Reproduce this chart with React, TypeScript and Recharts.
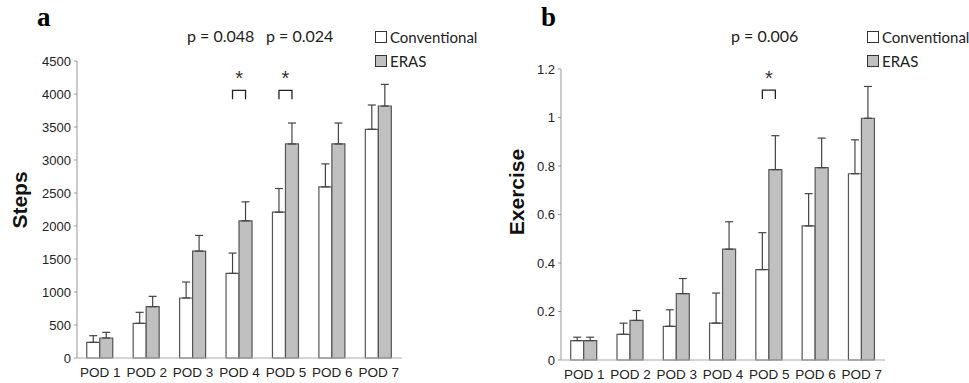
import React from "react";
import { BarChart, Bar, XAxis, YAxis, ErrorBar, LabelList } from "recharts";

const categories = ["POD 1", "POD 2", "POD 3", "POD 4", "POD 5", "POD 6", "POD 7"];

const stepsConventional = [237, 525, 909, 1282, 2210, 2593, 3465];
const stepsConventionalErr = [101, 167, 242, 308, 358, 348, 368];
const stepsEras = [303, 778, 1620, 2079, 3243, 3243, 3818];
const stepsErasErr = [86, 156, 237, 287, 317, 317, 328];
const stepsTicks = [0, 500, 1000, 1500, 2000, 2500, 3000, 3500, 4000, 4500];

const exerciseConventional = [0.08, 0.106, 0.139, 0.152, 0.373, 0.553, 0.768];
const exerciseConventionalErr = [0.014, 0.046, 0.068, 0.124, 0.152, 0.133, 0.14];
const exerciseEras = [0.08, 0.163, 0.274, 0.457, 0.785, 0.793, 0.997];
const exerciseErasErr = [0.014, 0.041, 0.062, 0.113, 0.14, 0.122, 0.131];
const exerciseTicks = [0, 0.2, 0.4, 0.6, 0.8, 1, 1.2];

// significant comparisons: category index + bracket height in data units
const stepsSig = [3, 4];
const stepsBracketLevel = 4056;
const exerciseSig = [4];
const exerciseBracketLevel = 1.113;

const stepsPValues = ["p = 0.048", "p = 0.024"];
const exercisePValues = ["p = 0.006"];

const seriesNames = ["Conventional", "ERAS"];

const TICK_FONT = "'Liberation Sans', Arial, sans-serif";
const TEXT_FONT = "Lato, 'Open Sans', sans-serif";

const buildRows = (conv: number[], convErr: number[], eras: number[], erasErr: number[]) =>
  categories.map((name, i) => ({
    name,
    conv: conv[i],
    convErr: [0, convErr[i]],
    eras: eras[i],
    erasErr: [0, erasErr[i]],
  }));

const stepsData = buildRows(stepsConventional, stepsConventionalErr, stepsEras, stepsErasErr);
const exerciseData = buildRows(
  exerciseConventional,
  exerciseConventionalErr,
  exerciseEras,
  exerciseErasErr
);

const makeBracket = (sig: number[], level: number, data: any[]) => (props: any) => {
  const { x, y, width, height, index } = props;
  if (!sig.includes(index)) return null;
  const value = data[index].eras;
  const bottom = Number(y) + Number(height);
  const top = bottom - (level * Number(height)) / value;
  const x1 = Number(x) - Number(width) / 2;
  const x2 = Number(x) + Number(width) / 2;
  return (
    <g>
      <path
        d={`M${x1},${top + 9} L${x1},${top} L${x2},${top} L${x2},${top + 9}`}
        fill="none"
        stroke="#222"
        strokeWidth={1.3}
      />
      <text
        x={(x1 + x2) / 2}
        y={top - 5}
        textAnchor="middle"
        fontSize={20}
        fontFamily={TICK_FONT}
        fill="#333"
      >
        *
      </text>
    </g>
  );
};

const LegendBox: React.FC<{ left: number; top: number }> = ({ left, top }) => (
  <div
    style={{
      position: "absolute",
      left,
      top,
      fontFamily: TEXT_FONT,
      fontSize: 15,
      color: "#222",
      lineHeight: "24px",
    }}
  >
    {seriesNames.map((n, i) => (
      <div key={n} style={{ display: "flex", alignItems: "center" }}>
        <span
          style={{
            display: "inline-block",
            width: 10,
            height: 10,
            border: "1px solid #333",
            background: i === 0 ? "#fff" : "#c0c0c0",
            marginRight: 3,
          }}
        />
        <span>{n}</span>
      </div>
    ))}
  </div>
);

interface PanelProps {
  data: any[];
  ticks: number[];
  domain: [number, number];
  sig: number[];
  level: number;
  width: number;
  margin: { top: number; right: number; bottom: number; left: number };
  xHeight: number;
}

const Panel: React.FC<PanelProps> = ({ data, ticks, domain, sig, level, width, margin, xHeight }) => (
  <BarChart
    width={width}
    height={383}
    data={data}
    margin={margin}
    barGap={0}
    barCategoryGap="21%"
  >
    <XAxis
      dataKey="name"
      height={xHeight}
      tickLine={false}
      axisLine={{ stroke: "#aaa" }}
      tickSize={0}
      tickMargin={9}
      tick={{ fontSize: 13.5, fill: "#222", fontFamily: TICK_FONT }}
      interval={0}
    />
    <YAxis
      width={60}
      domain={domain}
      ticks={ticks}
      interval={0}
      axisLine={{ stroke: "#999" }}
      tickLine={{ stroke: "#999" }}
      tickSize={3}
      tickMargin={3}
      tick={{ fontSize: 13, fill: "#222", fontFamily: TICK_FONT }}
    />
    <Bar dataKey="conv" fill="#fff" stroke="#555" strokeWidth={1.2} isAnimationActive={false}>
      <ErrorBar dataKey="convErr" direction="y" width={4} stroke="#444" strokeWidth={1.2} />
    </Bar>
    <Bar dataKey="eras" fill="#c0c0c0" stroke="#555" strokeWidth={1.2} isAnimationActive={false}>
      <ErrorBar dataKey="erasErr" direction="y" width={4} stroke="#444" strokeWidth={1.2} />
      <LabelList dataKey="eras" content={makeBracket(sig, level, data)} />
    </Bar>
  </BarChart>
);

const abs = (left: number, top: number): React.CSSProperties => ({
  position: "absolute",
  left,
  top,
});

const pStyle: React.CSSProperties = {
  fontFamily: TEXT_FONT,
  fontSize: 16,
  color: "#222",
  whiteSpace: "nowrap",
};

const letterStyle: React.CSSProperties = {
  fontFamily: "'Liberation Serif', serif",
  fontWeight: "bold",
  fontSize: 27,
};

const titleStyle: React.CSSProperties = {
  transform: "translate(-50%, -50%) rotate(-90deg)",
  fontFamily: TICK_FONT,
  fontWeight: "bold",
  fontSize: 21,
  color: "#111",
  whiteSpace: "nowrap",
};

const App: React.FC = () => {
  return (
    <div style={{ position: "absolute", left: 0, top: 0, width: 969, height: 383, background: "#fff" }}>
      <div style={abs(0, 0)}>
        <Panel
          data={stepsData}
          ticks={stepsTicks}
          domain={[0, 4500]}
          sig={stepsSig}
          level={stepsBracketLevel}
          width={480}
          margin={{ top: 61, right: 78, bottom: 0, left: 17 }}
          xHeight={25}
        />
      </div>
      <div style={abs(480, 0)}>
        <Panel
          data={exerciseData}
          ticks={exerciseTicks}
          domain={[0, 1.2]}
          sig={exerciseSig}
          level={exerciseBracketLevel}
          width={489}
          margin={{ top: 69, right: 84, bottom: 0, left: 21 }}
          xHeight={23}
        />
      </div>

      <LegendBox left={375} top={25} />
      <LegendBox left={867} top={25} />

      {/* panel letters */}
      <div style={{ ...abs(37, 2), ...letterStyle }}>a</div>
      <div style={{ ...abs(541, 2), ...letterStyle }}>b</div>

      {/* p-values */}
      <div style={{ ...abs(187, 26), ...pStyle }}>{stepsPValues[0]}</div>
      <div style={{ ...abs(266, 26), ...pStyle }}>{stepsPValues[1]}</div>
      <div style={{ ...abs(731, 26), ...pStyle }}>{exercisePValues[0]}</div>

      {/* y axis titles */}
      <div style={{ ...abs(20, 200), ...titleStyle }}>Steps</div>
      <div style={{ ...abs(517, 192), ...titleStyle }}>Exercise</div>
    </div>
  );
};

export default App;
